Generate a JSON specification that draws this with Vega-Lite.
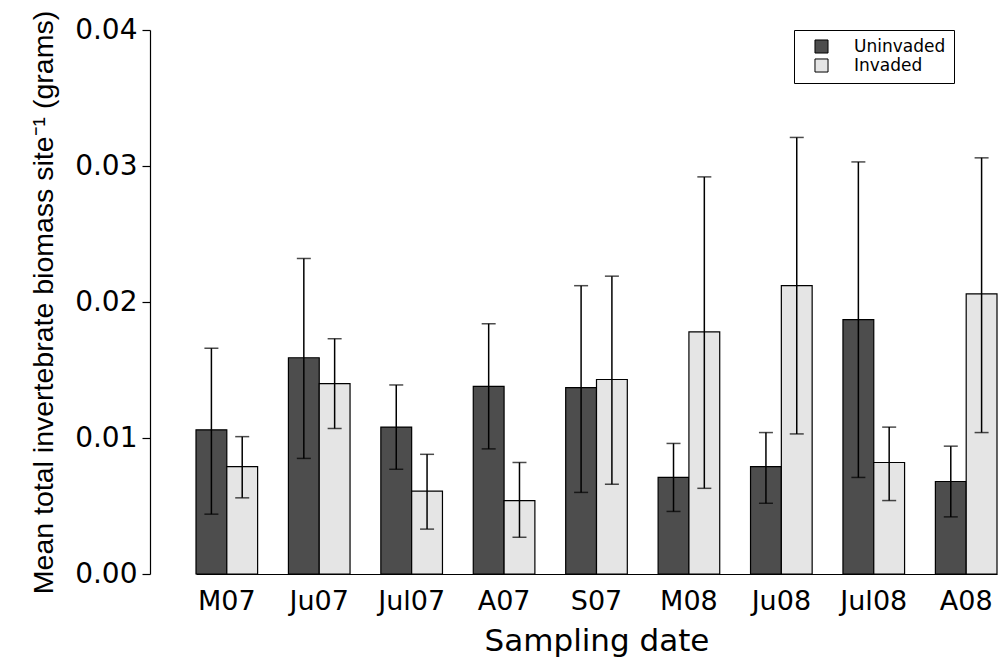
{
  "$schema": "https://vega.github.io/schema/vega-lite/v6.json",
  "autosize": {"type": "none"},
  "width": 801,
  "height": 544,
  "padding": {"left": 196, "top": 30, "right": 6, "bottom": 84},
  "background": "white",
  "config": {
    "view": {"stroke": null},
    "font": "DejaVu Sans",
    "axis": {"labelColor": "black", "titleColor": "black", "titleFontWeight": "normal", "grid": false}
  },
  "data": {
    "values": [
      {"date": "M07", "site": "Uninvaded", "mean": 0.0106, "lo": 0.0044, "hi": 0.0166},
      {"date": "M07", "site": "Invaded", "mean": 0.0079, "lo": 0.0056, "hi": 0.0101},
      {"date": "Ju07", "site": "Uninvaded", "mean": 0.0159, "lo": 0.0085, "hi": 0.0232},
      {"date": "Ju07", "site": "Invaded", "mean": 0.0140, "lo": 0.0107, "hi": 0.0173},
      {"date": "Jul07", "site": "Uninvaded", "mean": 0.0108, "lo": 0.0077, "hi": 0.0139},
      {"date": "Jul07", "site": "Invaded", "mean": 0.0061, "lo": 0.0033, "hi": 0.0088},
      {"date": "A07", "site": "Uninvaded", "mean": 0.0138, "lo": 0.0092, "hi": 0.0184},
      {"date": "A07", "site": "Invaded", "mean": 0.0054, "lo": 0.0027, "hi": 0.0082},
      {"date": "S07", "site": "Uninvaded", "mean": 0.0137, "lo": 0.0060, "hi": 0.0212},
      {"date": "S07", "site": "Invaded", "mean": 0.0143, "lo": 0.0066, "hi": 0.0219},
      {"date": "M08", "site": "Uninvaded", "mean": 0.0071, "lo": 0.0046, "hi": 0.0096},
      {"date": "M08", "site": "Invaded", "mean": 0.0178, "lo": 0.0063, "hi": 0.0292},
      {"date": "Ju08", "site": "Uninvaded", "mean": 0.0079, "lo": 0.0052, "hi": 0.0104},
      {"date": "Ju08", "site": "Invaded", "mean": 0.0212, "lo": 0.0103, "hi": 0.0321},
      {"date": "Jul08", "site": "Uninvaded", "mean": 0.0187, "lo": 0.0071, "hi": 0.0303},
      {"date": "Jul08", "site": "Invaded", "mean": 0.0082, "lo": 0.0054, "hi": 0.0108},
      {"date": "A08", "site": "Uninvaded", "mean": 0.0068, "lo": 0.0042, "hi": 0.0094},
      {"date": "A08", "site": "Invaded", "mean": 0.0206, "lo": 0.0104, "hi": 0.0306}
    ]
  },
  "encoding": {
    "x": {
      "field": "date",
      "type": "nominal",
      "sort": null,
      "scale": {"paddingInner": 0.3333, "paddingOuter": 0},
      "axis": {
        "title": "Sampling date",
        "labelAngle": 0,
        "labelFontSize": 27,
        "labelPadding": 14,
        "ticks": false,
        "domainColor": "black",
        "domainWidth": 1.2,
        "titleFontSize": 31,
        "titlePadding": 12
      }
    },
    "xOffset": {
      "field": "site",
      "type": "nominal",
      "sort": ["Uninvaded", "Invaded"],
      "scale": {"paddingInner": 0, "paddingOuter": 0}
    }
  },
  "layer": [
    {
      "mark": {"type": "bar", "stroke": "black", "strokeWidth": 1.2},
      "encoding": {
        "y": {
          "field": "mean",
          "type": "quantitative",
          "scale": {"domain": [0, 0.04], "nice": false},
          "axis": {
            "title": "Mean total invertebrate biomass site⁻¹ (grams)",
            "titleFont": "Liberation Sans",
            "titleFontSize": 28.5,
            "titlePadding": 16,
            "values": [0, 0.01, 0.02, 0.03, 0.04],
            "format": ".2f",
            "labelFontSize": 28,
            "labelPadding": 5,
            "tickSize": 8,
            "tickColor": "black",
            "tickWidth": 1.2,
            "domainColor": "black",
            "domainWidth": 1.2,
            "offset": 46
          }
        },
        "color": {
          "field": "site",
          "type": "nominal",
          "sort": ["Uninvaded", "Invaded"],
          "scale": {"domain": ["Uninvaded", "Invaded"], "range": ["#4d4d4d", "#e5e5e5"]},
          "legend": {
            "title": null,
            "orient": "none",
            "legendX": 598,
            "legendY": 0,
            "padding": 8,
            "strokeColor": "black",
            "fillColor": "white",
            "symbolType": "square",
            "symbolSize": 170,
            "symbolOffset": 11,
            "symbolStrokeColor": "black",
            "symbolStrokeWidth": 1,
            "labelFontSize": 17,
            "labelColor": "black",
            "labelOffset": 24,
            "rowPadding": 0
          }
        }
      }
    },
    {
      "mark": {"type": "rule", "color": "black", "strokeWidth": 1.5},
      "encoding": {
        "y": {"field": "lo", "type": "quantitative"},
        "y2": {"field": "hi"}
      }
    },
    {
      "mark": {"type": "tick", "color": "black", "thickness": 1.5, "size": 14, "orient": "horizontal"},
      "encoding": {"y": {"field": "lo", "type": "quantitative"}}
    },
    {
      "mark": {"type": "tick", "color": "black", "thickness": 1.5, "size": 14, "orient": "horizontal"},
      "encoding": {"y": {"field": "hi", "type": "quantitative"}}
    }
  ]
}
